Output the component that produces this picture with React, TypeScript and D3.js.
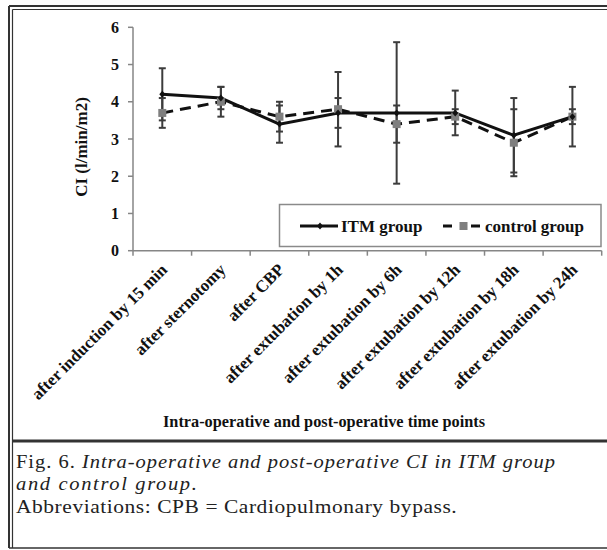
import React from "react";
import * as d3 from "d3";

const categories = [
  "after induction by 15 min",
  "after sternotomy",
  "after CBP",
  "after extubation by 1h",
  "after extubation by 6h",
  "after extubation by 12h",
  "after extubation by 18h",
  "after extubation by 24h",
];
const itmMean = [4.2, 4.1, 3.4, 3.7, 3.7, 3.7, 3.1, 3.6];
const itmSD = [0.7, 0.3, 0.5, 0.4, 1.9, 0.6, 1.0, 0.8];
const ctrlMean = [3.7, 4.0, 3.6, 3.8, 3.4, 3.6, 2.9, 3.6];
const ctrlSD = [0.4, 0.4, 0.4, 1.0, 0.5, 0.2, 0.9, 0.2];
const yTicks = [0, 1, 2, 3, 4, 5, 6];
const seriesNames = ["ITM group", "control group"];
const yTitle = "CI (l/min/m2)";
const xTitle = "Intra-operative and post-operative time points";

const W = 607;
const H = 550;
const X0 = 133;
const X1 = 601.7;
const Y0 = 250.7;
const Y1 = 27.3;
const SERIF = "'Liberation Serif', 'Times New Roman', serif";
const AXIS = "#868686";

export default function App() {
  const x = d3.scaleBand<string>().domain(categories).range([X0, X1]).padding(0);
  const y = d3.scaleLinear().domain([0, 6]).range([Y0, Y1]);
  const cx = (i: number) => (x(categories[i]) as number) + x.bandwidth() / 2;

  const line = d3
    .line<number>()
    .x((_, i) => cx(i))
    .y((d) => y(d));

  const boundaries = d3.range(categories.length + 1).map((i) => X0 + i * x.bandwidth());

  const errBars = (mean: number[], sd: number[], key: string) =>
    mean.map((m, i) => {
      const xi = cx(i);
      const top = y(m + sd[i]);
      const bot = y(m - sd[i]);
      return (
        <g key={key + i} stroke="#3c3c3c" strokeWidth={2}>
          <line x1={xi} x2={xi} y1={top} y2={bot} />
          <line x1={xi - 3.5} x2={xi + 3.5} y1={top} y2={top} />
          <line x1={xi - 3.5} x2={xi + 3.5} y1={bot} y2={bot} />
        </g>
      );
    });

  const diamond = (px: number, py: number, k: string) => (
    <path key={k} d={`M${px},${py - 3.5}L${px + 3},${py}L${px},${py + 3.5}L${px - 3},${py}Z`} fill="#111" />
  );
  const square = (px: number, py: number, k: string) => (
    <rect key={k} x={px - 4} y={py - 4} width={8} height={8} fill="#7f7f7f" />
  );

  return (
    <svg
      width={W}
      height={H}
      style={{ position: "absolute", left: 0, top: 0, display: "block", background: "#fff" }}
    >
      {/* frame */}
      <g fill="none" stroke="#333">
        <line x1={9} x2={W + 2} y1={6} y2={6} strokeWidth={2} />
        <line x1={12.5} x2={W + 2} y1={9.5} y2={9.5} strokeWidth={1.2} />
        <line x1={9} x2={9} y1={6} y2={548} strokeWidth={2} />
        <line x1={12.5} x2={12.5} y1={9.5} y2={548} strokeWidth={1.2} />
        <line x1={12.5} x2={W + 2} y1={441} y2={441} strokeWidth={3} />
        <line x1={9} x2={W + 2} y1={548} y2={548} strokeWidth={1.5} />
      </g>

      {/* axes */}
      <g stroke={AXIS} strokeWidth={1.5}>
        <line x1={X0} x2={X0} y1={Y1} y2={Y0} />
        {yTicks.map((t) => (
          <line key={"yt" + t} x1={X0 - 5} x2={X0} y1={y(t)} y2={y(t)} />
        ))}
        <line x1={X0} x2={X1} y1={Y0} y2={Y0} />
        {boundaries.map((b, i) => (
          <line key={"xt" + i} x1={b} x2={b} y1={Y0} y2={Y0 + 5} />
        ))}
      </g>
      {yTicks.map((t) => (
        <text
          key={"yl" + t}
          x={119}
          y={y(t)}
          dy="0.35em"
          textAnchor="end"
          fontFamily={SERIF}
          fontWeight="bold"
          fontSize={16}
          fill="#111"
        >
          {t}
        </text>
      ))}
      <text
        transform={`translate(87,147) rotate(-90)`}
        textAnchor="middle"
        fontFamily={SERIF}
        fontWeight="bold"
        fontSize={17}
        fill="#111"
      >
        {yTitle}
      </text>

      {/* x labels */}
      {categories.map((c, i) => (
        <text
          key={"xl" + i}
          transform={`translate(${cx(i) + 6},${Y0 + 20}) rotate(-45)`}
          textAnchor="end"
          fontFamily={SERIF}
          fontWeight="bold"
          fontSize={17}
          fill="#111"
        >
          {c}
        </text>
      ))}
      <text x={324} y={427} textAnchor="middle" fontFamily={SERIF} fontWeight="bold" fontSize={16.3} fill="#111">
        {xTitle}
      </text>

      {/* legend */}
      <rect x={279.5} y={204.5} width={321.5} height={42} fill="#fff" stroke="#8a8a8a" strokeWidth={1.5} />
      <line x1={300} x2={338} y1={226} y2={226} stroke="#111" strokeWidth={3} />
      {diamond(320, 226, "ld")}
      <text x={341} y={226} dy="0.35em" fontFamily={SERIF} fontWeight="bold" fontSize={17} fill="#111">
        {seriesNames[0]}
      </text>
      <line x1={443} x2={481} y1={226} y2={226} stroke="#111" strokeWidth={3} strokeDasharray="9,5" />
      <rect x={457} y={220} width={12} height={12} fill="#fff" />
      {square(463.5, 226, "ls")}
      <text x={485} y={226} dy="0.35em" fontFamily={SERIF} fontWeight="bold" fontSize={17} fill="#111">
        {seriesNames[1]}
      </text>

      {/* series */}
      {errBars(itmMean, itmSD, "ei")}
      {errBars(ctrlMean, ctrlSD, "ec")}
      <path d={line(ctrlMean) || ""} fill="none" stroke="#111" strokeWidth={3} strokeDasharray="11,7" />
      <path d={line(itmMean) || ""} fill="none" stroke="#111" strokeWidth={3} />
      {ctrlMean.map((m, i) => square(cx(i), y(m), "cs" + i))}
      {itmMean.map((m, i) => diamond(cx(i), y(m), "id" + i))}

      {/* caption */}
      <g transform="translate(16,0) scale(1.08,1)">
        <text x={0} y={468.5} fontFamily={SERIF} fontSize={19} fill="#222" textLength={499} lengthAdjust="spacing">
          <tspan>Fig. 6. </tspan>
          <tspan fontStyle="italic">Intra-operative and post-operative CI in ITM group</tspan>
        </text>
        <text x={0} y={490.5} fontFamily={SERIF} fontSize={19} fill="#222" fontStyle="italic" textLength={167.5} lengthAdjust="spacing">
          and control group.
        </text>
      </g>
      <g transform="translate(16,0) scale(1.13,1)">
        <text x={0} y={512.5} fontFamily={SERIF} fontSize={19} fill="#222" textLength={390} lengthAdjust="spacing">
          Abbreviations: CPB = Cardiopulmonary bypass.
        </text>
      </g>
    </svg>
  );
}
